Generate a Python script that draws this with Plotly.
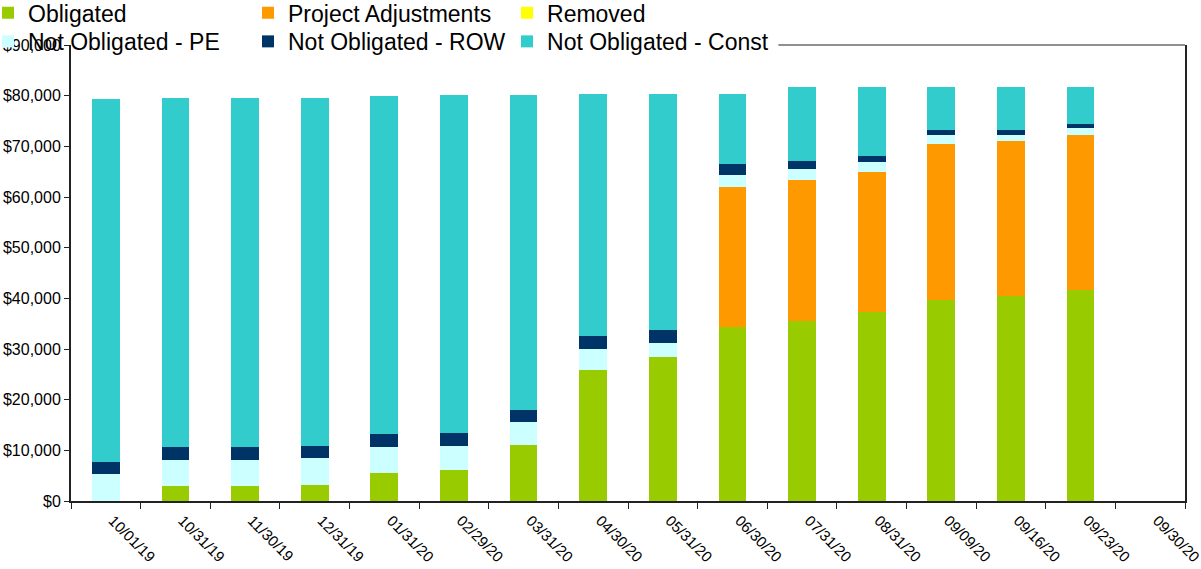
import plotly.graph_objects as go

dates = ['10/01/19', '10/31/19', '11/30/19', '12/31/19', '01/31/20', '02/29/20', '03/31/20', '04/30/20',
         '05/31/20', '06/30/20', '07/31/20', '08/31/20', '09/09/20', '09/16/20', '09/23/20', '09/30/20']

obligated = [0, 2900, 2900, 3100, 5500, 6100, 11000, 25800, 28400, 34300, 35500, 37300, 39700, 40500, 41600, 0]
project_adj = [0, 0, 0, 0, 0, 0, 0, 0, 0, 27700, 27900, 27700, 30800, 30600, 30700, 0]
removed = [0] * 16
not_obl_pe = [5300, 5150, 5150, 5340, 5100, 4700, 4560, 4200, 2780, 2400, 2180, 1960, 1800, 1200, 1380, 0]
not_obl_row = [2350, 2560, 2560, 2370, 2590, 2580, 2370, 2560, 2570, 2170, 1580, 1190, 990, 990, 790, 0]
not_obl_const = [71750, 69000, 69000, 68800, 66820, 66830, 62280, 47840, 46650, 13830, 14630, 13640, 8500, 8500, 7320, 0]

series = [
    ('Obligated', obligated, '#99CC00'),
    ('Project Adjustments', project_adj, '#FF9900'),
    ('Removed', removed, '#FFFF00'),
    ('Not Obligated - PE', not_obl_pe, '#CCFFFF'),
    ('Not Obligated - ROW', not_obl_row, '#003366'),
    ('Not Obligated - Const', not_obl_const, '#33CCCC'),
]

FONT = 'Arial, Liberation Sans, sans-serif'
AXIS = '#222222'

# one legend box per entry -> 3 columns x 2 rows like the original
leg_x = [-0.0745, 0.1589, 0.3914]
leg_y = [1.118, 1.055]

fig = go.Figure()
legends = {}
for i, (name, vals, col) in enumerate(series):
    key = f'legend{i+2}'
    fig.add_trace(go.Bar(x=dates, y=vals, name=name, legend=key,
                         marker=dict(color=col, line=dict(width=0))))
    legends[key] = dict(x=leg_x[i % 3], y=leg_y[i // 3], xanchor='left', yanchor='top',
                        bgcolor='rgba(0,0,0,0)', font=dict(family=FONT, size=23, color='#000000'))

fig.update_layout(
    width=1201, height=569,
    barmode='stack', bargap=0.6, showlegend=True,
    paper_bgcolor='#FFFFFF', plot_bgcolor='#FFFFFF',
    font=dict(family=FONT, size=15, color='#000000'),
    margin=dict(l=71, r=16, t=45, b=68, autoexpand=False),
    xaxis=dict(type='category', tickson='boundaries', ticks='outside', ticklen=6, tickcolor=AXIS,
               tickangle=45, showline=True, linecolor=AXIS, linewidth=2, showgrid=False,
               tickfont=dict(size=15), ticklabelshift=7, ticklabelstandoff=3, automargin=False),
    yaxis=dict(range=[0, 90000], dtick=10000, tickprefix='$', tickformat=',', ticks='outside',
               ticklen=5, tickcolor=AXIS, showline=True, linecolor=AXIS, linewidth=2, mirror=True,
               showgrid=False, zeroline=False, tickfont=dict(size=16), automargin=False),
    shapes=[dict(type='line', xref='paper', yref='paper', x0=0.635, x1=1, y0=1, y1=1,
                 line=dict(color=AXIS, width=1))],
    **legends,
)

fig.write_html('out.html', config={'displayModeBar': False},
               post_script="document.body.style.margin='0';")
